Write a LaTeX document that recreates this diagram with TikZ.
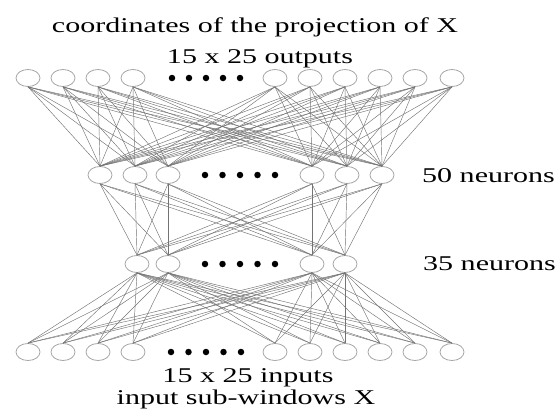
\documentclass[tikz,border=0pt]{standalone}
\usepackage{fontspec}
\setmainfont{Liberation Serif}
\usetikzlibrary{shapes.geometric}
\begin{document}
\begin{tikzpicture}[x=1pt,y=-1pt,
  neuron/.style={ellipse,draw=black!35,line width=0.8pt,minimum width=24pt,minimum height=17pt,inner sep=0pt},
  dotmark/.style={circle,fill=black,inner sep=0pt,minimum size=6.5pt},
  conn/.style={draw=black!55,line width=0.45pt},
  lbl/.style={font=\fontsize{21}{24}\selectfont,inner sep=0pt}]
\useasboundingbox (0,0) rectangle (558,410);
% layers
\foreach \x [count=\i] in {28,63,98,133,275,310,345,380,415,452} {
  \node[neuron] (t\i) at (\x,78) {};
  \node[neuron] (b\i) at (\x,352) {};
}
\foreach \x [count=\i] in {100,135,168,312,347,382}
  \node[neuron] (m\i) at (\x,175) {};
\foreach \x [count=\i] in {137,168,312,345}
  \node[neuron] (h\i) at (\x,264) {};
% dots
\foreach \k in {0,...,4} {
  \node[dotmark] (dt\k) at ({172+17*\k},78) {};
  \node[dotmark] (dm\k) at ({205+17.5*\k},175) {};
  \node[dotmark] (dh\k) at ({205+17.5*\k},264) {};
  \node[dotmark] (db\k) at ({171+17.5*\k},352) {};
}
% connections
\foreach \i in {1,...,10}
  \foreach \j in {1,...,6}
    \draw[conn] (t\i.south) -- (m\j.north);
\foreach \i in {1,...,6}
  \foreach \j in {1,...,4}
    \draw[conn] (m\i.south) -- (h\j.north);
\foreach \i in {1,...,4}
  \foreach \j in {1,...,10}
    \draw[conn] (h\i.south) -- (b\j.north);
% labels
\node[lbl,anchor=base] (title1) at (255,32) {\scalebox{1.43}[1]{coordinates of the projection of X}};
\node[lbl,anchor=base] (title2) at (260,63) {\scalebox{1.43}[1]{15 x 25 outputs}};
\node[lbl,anchor=base west] (l50) at (422,182) {\scalebox{1.43}[1]{50 neurons}};
\node[lbl,anchor=base west] (l35) at (423,270) {\scalebox{1.43}[1]{35 neurons}};
\node[lbl,anchor=base] (foot1) at (248,382) {\scalebox{1.43}[1]{15 x 25 inputs}};
\node[lbl,anchor=base] (foot2) at (246,404) {\scalebox{1.43}[1]{input sub-windows X}};
\end{tikzpicture}
\end{document}
